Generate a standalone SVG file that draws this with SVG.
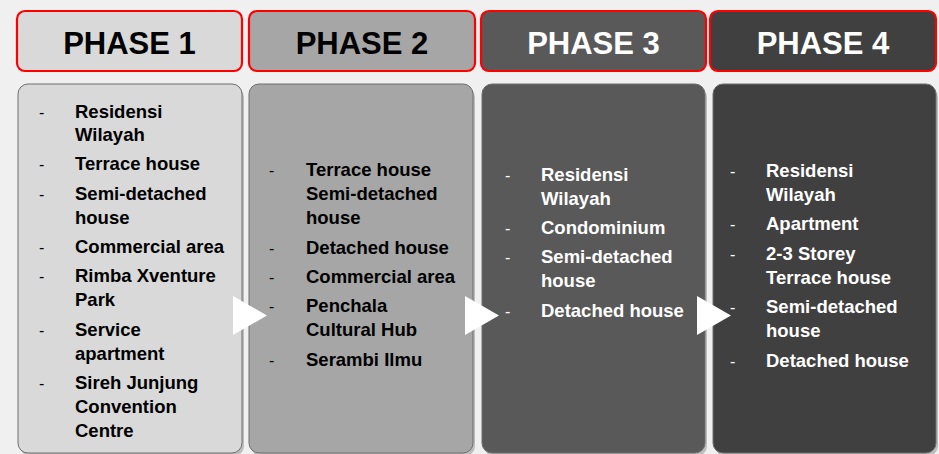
<svg xmlns="http://www.w3.org/2000/svg" width="939" height="454" viewBox="0 0 939 454">
<style>
.hdr{stroke:#ff0000;stroke-width:2.2}
.hdrt{font-family:"Liberation Sans",Arial,sans-serif;font-weight:bold;font-size:31px;text-anchor:middle}
.pnl{stroke:#6e6e6e;stroke-width:1}
.shd{fill:#bdbdbd}
.it{font-family:"Liberation Sans",Arial,sans-serif;font-weight:bold;font-size:18.5px}
.ds{font-family:"Liberation Sans",Arial,sans-serif;font-size:16px}
.dk{fill:#000}
.lt{fill:#fff}
.arr{fill:#fff}
</style>
<rect width="939" height="454" fill="#f0f0f0"/>
<g id="phase1">
<rect class="hdr" x="17" y="11" width="225" height="60" rx="8" fill="#d9d9d9"/>
<text class="hdrt dk" x="129.5" y="54">PHASE 1</text>
<rect class="shd" x="20" y="87" width="224" height="369" rx="10"/>
<rect class="pnl" x="18" y="84" width="224" height="369" rx="10" fill="#d9d9d9"/>
<g class="ds dk">
<text x="39" y="118">-</text><text x="39" y="170">-</text><text x="39" y="200">-</text><text x="39" y="253">-</text><text x="39" y="282">-</text><text x="39" y="336">-</text><text x="39" y="389">-</text>
</g>
<g class="it dk">
<text x="75" y="118">Residensi</text><text x="75" y="141">Wilayah</text>
<text x="75" y="170">Terrace house</text>
<text x="75" y="200">Semi-detached</text><text x="75" y="224">house</text>
<text x="75" y="253">Commercial area</text>
<text x="75" y="282">Rimba Xventure</text><text x="75" y="306">Park</text>
<text x="75" y="336">Service</text><text x="75" y="360">apartment</text>
<text x="75" y="389">Sireh Junjung</text><text x="75" y="413">Convention</text><text x="75" y="437">Centre</text>
</g>
</g>
<g id="phase2">
<rect class="hdr" x="249" y="11" width="226" height="60" rx="8" fill="#a6a6a6"/>
<text class="hdrt dk" x="362" y="54">PHASE 2</text>
<rect class="shd" x="251" y="87" width="224" height="369" rx="10"/>
<rect class="pnl" x="249" y="84" width="224" height="369" rx="10" fill="#a6a6a6"/>
<g class="ds dk">
<text x="269" y="176">-</text><text x="269" y="254">-</text><text x="269" y="283">-</text><text x="269" y="312">-</text><text x="269" y="366">-</text>
</g>
<g class="it dk">
<text x="306" y="176">Terrace house</text>
<text x="306" y="200">Semi-detached</text><text x="306" y="224">house</text>
<text x="306" y="254">Detached house</text>
<text x="306" y="283">Commercial area</text>
<text x="306" y="312">Penchala</text><text x="306" y="336">Cultural Hub</text>
<text x="306" y="366">Serambi Ilmu</text>
</g>
</g>
<g id="phase3">
<rect class="hdr" x="481" y="11" width="225" height="60" rx="8" fill="#595959"/>
<text class="hdrt lt" x="593.5" y="54">PHASE 3</text>
<rect class="shd" x="484" y="87" width="223" height="369" rx="10"/>
<rect class="pnl" x="482" y="84" width="223" height="369" rx="10" fill="#595959"/>
<g class="ds lt">
<text x="505" y="181">-</text><text x="505" y="234">-</text><text x="505" y="263">-</text><text x="505" y="317">-</text>
</g>
<g class="it lt">
<text x="541" y="181">Residensi</text><text x="541" y="205">Wilayah</text>
<text x="541" y="234">Condominium</text>
<text x="541" y="263">Semi-detached</text><text x="541" y="287">house</text>
<text x="541" y="317">Detached house</text>
</g>
</g>
<g id="phase4">
<rect class="hdr" x="710" y="11" width="226" height="60" rx="8" fill="#404040"/>
<text class="hdrt lt" x="823" y="54">PHASE 4</text>
<rect class="shd" x="715" y="87" width="223" height="369" rx="10"/>
<rect class="pnl" x="713" y="84" width="223" height="369" rx="10" fill="#404040"/>
<g class="ds lt">
<text x="730" y="177">-</text><text x="730" y="230">-</text><text x="730" y="260">-</text><text x="730" y="313">-</text><text x="730" y="367">-</text>
</g>
<g class="it lt">
<text x="766" y="177">Residensi</text><text x="766" y="201">Wilayah</text>
<text x="766" y="230">Apartment</text>
<text x="766" y="260">2-3 Storey</text><text x="766" y="284">Terrace house</text>
<text x="766" y="313">Semi-detached</text><text x="766" y="337">house</text>
<text x="766" y="367">Detached house</text>
</g>
</g>
<g id="connectors">
<polygon class="arr" points="233,296 267,315.5 233,335"/>
<polygon class="arr" points="465,296 499,315.5 465,335"/>
<polygon class="arr" points="697,296 731,315.5 697,335"/>
</g>
</svg>
